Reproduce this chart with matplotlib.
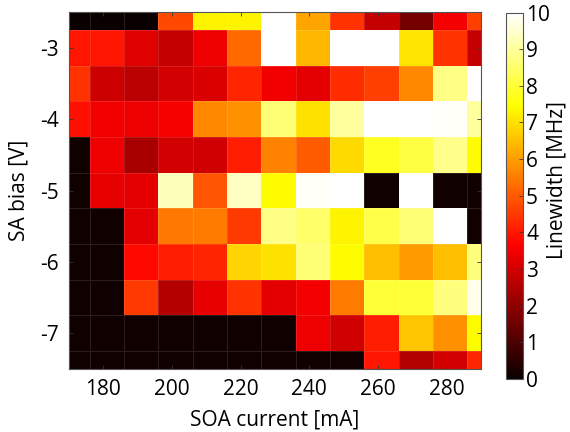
import numpy as np
import matplotlib
matplotlib.use('Agg')
import matplotlib.pyplot as plt

plt.rcParams['font.family'] = ['Open Sans', 'DejaVu Sans']

# Dados: corrente do SOA (centros das células) e tensão do SA
soa_current = [171, 181, 191, 201, 211, 221, 231, 241, 251, 261, 271, 281, 291]
sa_bias = [-2.5, -3.0, -3.5, -4.0, -4.5, -5.0, -5.5, -6.0, -6.5, -7.0, -7.5]

# largura de linha [MHz], uma linha por tensão
linewidth = [
    [0.0, 0.0, 0.0, 4.75, 7.3, 7.3, 10.0, 6.1, 4.4, 2.8, 1.6, 3.5, 4.6],
    [3.95, 3.95, 3.2, 2.8, 3.4, 5.2, 10.0, 6.4, 10.0, 10.0, 7.05, 4.4, 2.8],
    [4.4, 2.9, 2.65, 3.0, 3.1, 4.2, 3.45, 3.25, 4.3, 4.6, 5.7, 8.75, 10.0],
    [3.9, 3.45, 3.4, 3.55, 5.7, 5.8, 8.6, 7.0, 9.0, 10.0, 10.0, 9.9, 9.0],
    [0.1, 3.4, 2.35, 3.0, 2.95, 4.1, 5.6, 5.0, 6.9, 7.8, 8.1, 8.8, 7.4],
    [0.1, 3.3, 3.25, 9.3, 4.9, 9.4, 7.4, 9.9, 10.0, 0.1, 10.0, 0.1, 0.1],
    [0.1, 0.1, 3.25, 5.45, 5.5, 4.5, 8.75, 8.5, 7.3, 8.2, 8.6, 10.0, 0.1],
    [0.1, 0.1, 3.75, 4.1, 4.2, 6.8, 7.0, 8.6, 7.4, 6.5, 5.95, 6.5, 8.7],
    [0.1, 0.1, 4.5, 2.55, 3.3, 4.4, 3.25, 3.5, 5.5, 8.0, 8.0, 8.7, 9.8],
    [0.1, 0.1, 0.1, 0.1, 0.1, 0.1, 0.1, 3.4, 2.95, 4.1, 6.6, 5.8, 7.4],
    [0.1, 0.1, 0.1, 0.1, 0.1, 0.1, 0.1, 0.1, 0.1, 3.95, 2.5, 3.0, 4.2],
]

x = np.array(soa_current, dtype=float)
y = np.array(sa_bias, dtype=float)
z = np.array(linewidth)

# bordas das células
dx = x[1] - x[0]
dy = y[1] - y[0]
xe = np.append(x - dx / 2, x[-1] + dx / 2)
ye = np.append(y - dy / 2, y[-1] + dy / 2)

fig = plt.figure(figsize=(5.7, 4.32), dpi=100)
ax = fig.add_axes([0.121, 0.146, 0.723, 0.826])
cax = fig.add_axes([0.888, 0.123, 0.030, 0.848])

mesh = ax.pcolormesh(xe, ye, z, cmap='hot', vmin=0, vmax=10,
                     edgecolors=(1, 1, 1, 0.12), linewidth=0.5)
ax.set_xlim(170, 290)
ax.set_ylim(-7.5, -2.5)
ax.set_xticks([180, 200, 220, 240, 260, 280])
ax.set_yticks([-3, -4, -5, -6, -7])
ax.set_yticklabels(['-3', '-4', '-5', '-6', '-7'])
ax.tick_params(direction='in', top=True, right=True, length=3, width=0.6,
               labelsize=15, pad=7, color='#333333')
ax.set_xlabel('SOA current [mA]', fontsize=15, labelpad=7)
ax.set_ylabel('SA bias [V]', fontsize=15, labelpad=8)
for s in ax.spines.values():
    s.set_color('#555555')
    s.set_linewidth(0.8)

cb = fig.colorbar(mesh, cax=cax)
cb.set_ticks(range(0, 11))
cb.ax.tick_params(direction='in', length=3, width=0.6, labelsize=15, pad=2,
                  color='#333333')
cb.outline.set_edgecolor('#555555')
cb.outline.set_linewidth(0.8)
fig.text(557 / 570, 1 - 180 / 432, 'Linewidth [MHz]', rotation=90,
         ha='center', va='center', fontsize=15)

plt.savefig('out.png', dpi=100)
